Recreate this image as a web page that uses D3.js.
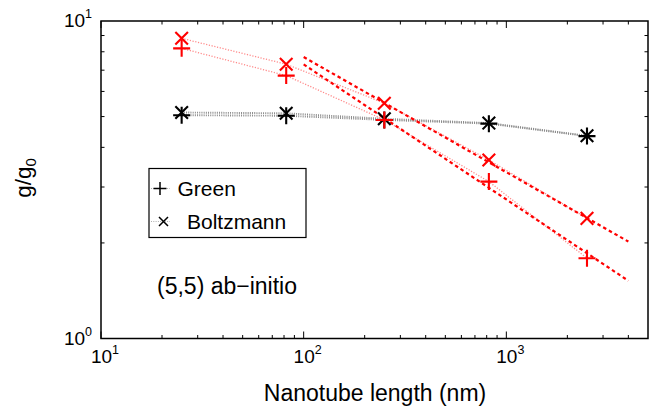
<!DOCTYPE html>
<html>
<head>
<meta charset="utf-8">
<script src="https://cdn.jsdelivr.net/npm/d3@7"></script>
<style>
  html, body { margin: 0; padding: 0; background: #fff; }
  svg { display: block; font-family: "Liberation Sans", Arial, Helvetica, sans-serif; }
</style>
</head>
<body>
<svg id="chart" width="654" height="410"></svg>
<script>
// Nanotube lengths (nm) at which the conductance was computed
const lengths = [25, 82, 250, 820, 2500];

// ab-initio results (red markers)
const greenAbInitio = [8.20, 6.73, 4.88, 3.12, 1.79];
const boltzmannAbInitio = [8.82, 7.31, 5.51, 3.65, 2.39];

// reference results (black markers)
const greenReference = [5.05, 5.03, 4.88, 4.75, 4.34];
const boltzmannReference = [5.15, 5.12, 4.92, 4.77, 4.35];

// power-law fits through the long-tube points
const fitLengths = [100, 4000];
const fitBoltzmann = [7.70, 2.02];
const fitGreen = [7.30, 1.52];

// axis ticks
const xMajorTicks = [10, 100, 1000];
const xExponents = ["1", "2", "3"];
const yMajorTicks = [1, 10];
const yExponents = ["0", "1"];

const legendLabels = ["Green", "Boltzmann"];
const noteText = "(5,5) ab\u2212initio";
const xTitle = "Nanotube length (nm)";

const svg = d3.select("#chart");
const m = { left: 101, right: 648, top: 21, bottom: 338.5 };

const x = d3.scaleLog().domain([10, 5000]).range([m.left, m.right]);
const y = d3.scaleLog().domain([1, 10]).range([m.bottom, m.top]);

const RED = "#ff0000";

// minor/major tick values
const xMinor = [];
for (let d = 10; d < 5000; d *= 10) for (let k = 2; k <= 9; k++) if (d * k < 5000) xMinor.push(d * k);
const yMinor = [2, 3, 4, 5, 6, 7, 8, 9];

const ticks = svg.append("g").attr("stroke", "#000").attr("stroke-width", 1);
function vTicks(vals, len) {
  vals.forEach(v => {
    const px = x(v);
    ticks.append("line").attr("x1", px).attr("x2", px).attr("y1", m.bottom).attr("y2", m.bottom - len);
    ticks.append("line").attr("x1", px).attr("x2", px).attr("y1", m.top).attr("y2", m.top + len);
  });
}
function hTicks(vals, len) {
  vals.forEach(v => {
    const py = y(v);
    ticks.append("line").attr("x1", m.left).attr("x2", m.left + len).attr("y1", py).attr("y2", py);
    ticks.append("line").attr("x1", m.right).attr("x2", m.right - len).attr("y1", py).attr("y2", py);
  });
}
vTicks(xMinor, 3.5);
vTicks(xMajorTicks, 7);
hTicks(yMinor, 3.5);

// frame
svg.append("rect")
  .attr("x", m.left).attr("y", m.top)
  .attr("width", m.right - m.left).attr("height", m.bottom - m.top)
  .attr("fill", "none").attr("stroke", "#000").attr("stroke-width", 1.5);

// tick labels
const xl = svg.append("g").attr("font-size", 19).attr("fill", "#000");
xMajorTicks.forEach((v, i) => {
  const t = xl.append("text").attr("x", x(v) + 4).attr("y", 363).attr("text-anchor", "middle");
  t.append("tspan").text("10");
  t.append("tspan").attr("font-size", 12.5).attr("dy", -9).text(xExponents[i]);
});
yMajorTicks.forEach((v, i) => {
  const t = xl.append("text").attr("x", 92).attr("y", y(v) + 6).attr("text-anchor", "end");
  t.append("tspan").text("10");
  t.append("tspan").attr("font-size", 12.5).attr("dy", -9).text(yExponents[i]);
});

// connecting lines
const line = d3.line().x(d => x(d[0])).y(d => y(d[1]));
const pts = vals => lengths.map((l, i) => [l, vals[i]]);

const plot = svg.append("g");
[greenReference, boltzmannReference].forEach(vals => {
  plot.append("path").attr("d", line(pts(vals)))
    .attr("fill", "none").attr("stroke", "#8a8a8a").attr("stroke-width", 1.9)
    .attr("stroke-dasharray", "1,1.2");
});
[greenAbInitio, boltzmannAbInitio].forEach(vals => {
  plot.append("path").attr("d", line(pts(vals)))
    .attr("fill", "none").attr("stroke", "#ff8a8a").attr("stroke-width", 1.3)
    .attr("stroke-dasharray", "1.2,1.6");
});
[fitBoltzmann, fitGreen].forEach(vals => {
  plot.append("path").attr("d", line(fitLengths.map((l, i) => [l, vals[i]])))
    .attr("fill", "none").attr("stroke", RED).attr("stroke-width", 2.2)
    .attr("stroke-dasharray", "3.5,3");
});

// markers
const plusPath = s => `M${-s},0H${s}M0,${-s}V${s}`;
const crossPath = s => `M${-s},${-s}L${s},${s}M${-s},${s}L${s},${-s}`;
function markers(vals, path, color) {
  plot.append("g").selectAll("path").data(pts(vals)).join("path")
    .attr("transform", d => `translate(${x(d[0])},${y(d[1])})`)
    .attr("d", path).attr("fill", "none").attr("stroke", color).attr("stroke-width", 2.1);
}
markers(greenReference, plusPath(8.5), "#000");
markers(boltzmannReference, crossPath(6.3), "#000");
markers(greenAbInitio, plusPath(8.5), RED);
markers(boltzmannAbInitio, crossPath(6.3), RED);

// legend
const lg = svg.append("g");
lg.append("rect").attr("x", 149).attr("y", 168.5).attr("width", 157).attr("height", 69)
  .attr("fill", "#fff").attr("stroke", "#000").attr("stroke-width", 1.2);
const legendRows = [
  { y: 188.5, mx: 160, path: plusPath(6.5), tx: 177.5, ty: 196 },
  { y: 221.5, mx: 163.5, path: crossPath(4.5), tx: 187, ty: 228.5 }
];
legendRows.forEach((r, i) => {
  lg.append("line").attr("x1", 151).attr("x2", 170).attr("y1", r.y).attr("y2", r.y)
    .attr("stroke", "#b0b0b0").attr("stroke-width", 1).attr("stroke-dasharray", "1,1.3");
  lg.append("path").attr("transform", `translate(${r.mx},${r.y})`).attr("d", r.path)
    .attr("fill", "none").attr("stroke", "#000").attr("stroke-width", 1.5);
  lg.append("text").attr("x", r.tx).attr("y", r.ty).attr("font-size", 21).text(legendLabels[i]);
});

// annotation
svg.append("text").attr("x", 157).attr("y", 293.5).attr("font-size", 23).text(noteText);

// axis titles
svg.append("text").attr("x", 375).attr("y", 401)
  .attr("text-anchor", "middle").attr("font-size", 23).text(xTitle);
const yt = svg.append("text").attr("transform", "translate(31,178) rotate(-90)")
  .attr("text-anchor", "middle").attr("font-size", 22.5);
yt.append("tspan").text("g/g");
yt.append("tspan").attr("font-size", 15).attr("dy", 5).text("0");
</script>
</body>
</html>
